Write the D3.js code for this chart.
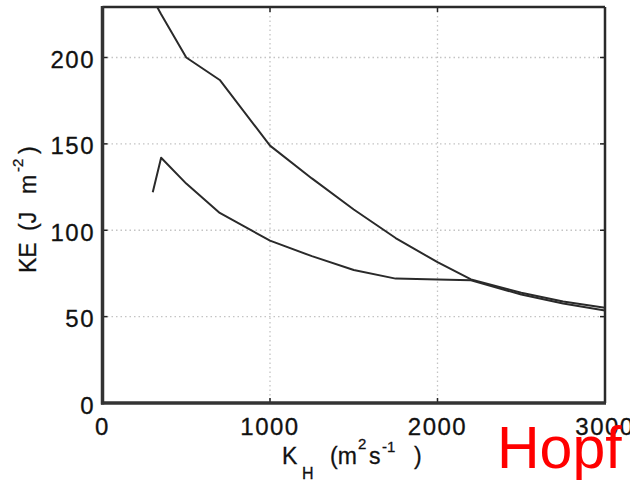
<!DOCTYPE html>
<html>
<head>
<meta charset="utf-8">
<script src="https://cdn.jsdelivr.net/npm/d3@7"></script>
<style>
  body { margin: 0; background: #fff; }
  svg { display: block; font-family: "Liberation Sans", Arial, sans-serif; }
</style>
</head>
<body>
<svg width="630" height="481"></svg>
<script>
// K_H values (m^2 s^-1) and the two KE curves (J m^-2)
var kh = [300, 350, 500, 700, 1000, 1250, 1500, 1750, 2000, 2200, 2500, 2750, 3000];
var keUpper = [234, 225, 200, 187, 149, 130, 112, 95.5, 81.5, 71.5, 63.8, 58.8, 55.2];
var keLower = [122, 142, 127, 110, 94, 85, 77, 72, 71.5, 71, 62.8, 57.6, 53.6];

var xTicks = [0, 1000, 2000, 3000];
var yTicks = [0, 50, 100, 150, 200];

var svg = d3.select("svg");

var xScale = d3.scaleLinear()
    .domain([0, 3000])
    .range([102.5, 605]);

var yScale = d3.scaleLinear()
    .domain([0, 200])
    .range([403, 57.5]);

var pLeft = xScale(0), pRight = xScale(3000);
var pBottom = yScale(0), pTop = 7;

// grid (dotted)
var grid = svg.append("g");
grid.selectAll("line.gx")
    .data(xTicks.filter(function(d){ return d > 0 && d < 3000; }))
    .enter().append("line")
    .attr("x1", function(d){ return xScale(d); })
    .attr("x2", function(d){ return xScale(d); })
    .attr("y1", pTop).attr("y2", pBottom)
    .attr("stroke", "#c4c4c4").attr("stroke-width", 1.3)
    .attr("stroke-dasharray", "1.5,3");
grid.selectAll("line.gy")
    .data(yTicks.filter(function(d){ return d > 0; }))
    .enter().append("line")
    .attr("y1", function(d){ return yScale(d); })
    .attr("y2", function(d){ return yScale(d); })
    .attr("x1", pLeft).attr("x2", pRight)
    .attr("stroke", "#c4c4c4").attr("stroke-width", 1.3)
    .attr("stroke-dasharray", "1.5,3");

// clip
svg.append("clipPath").attr("id", "plotClip")
    .append("rect")
    .attr("x", pLeft).attr("y", pTop)
    .attr("width", pRight - pLeft).attr("height", pBottom - pTop);

var line = d3.line()
    .x(function(d){ return xScale(d[0]); })
    .y(function(d){ return yScale(d[1]); });

var curves = svg.append("g").attr("clip-path", "url(#plotClip)");
[keUpper, keLower].forEach(function(series) {
    curves.append("path")
        .attr("d", line(kh.map(function(k, i){ return [k, series[i]]; })))
        .attr("fill", "none")
        .attr("stroke", "#2a2a2a")
        .attr("stroke-width", 2)
        .attr("stroke-linejoin", "round");
});

// ticks (inward, all four sides)
var tk = svg.append("g").attr("stroke", "#222").attr("stroke-width", 1.5);
xTicks.forEach(function(d) {
    tk.append("line").attr("x1", xScale(d)).attr("x2", xScale(d)).attr("y1", pBottom).attr("y2", pBottom - 5);
    tk.append("line").attr("x1", xScale(d)).attr("x2", xScale(d)).attr("y1", pTop).attr("y2", pTop + 5);
});
yTicks.forEach(function(d) {
    tk.append("line").attr("y1", yScale(d)).attr("y2", yScale(d)).attr("x1", pLeft).attr("x2", pLeft + 5);
    tk.append("line").attr("y1", yScale(d)).attr("y2", yScale(d)).attr("x1", pRight).attr("x2", pRight - 5);
});

// frame
svg.append("line").attr("x1", pLeft).attr("x2", pRight).attr("y1", pTop).attr("y2", pTop)
    .attr("stroke", "#2a2a2a").attr("stroke-width", 2.5);
svg.append("line").attr("x1", pRight).attr("x2", pRight).attr("y1", pTop).attr("y2", pBottom)
    .attr("stroke", "#2a2a2a").attr("stroke-width", 2.5);
svg.append("line").attr("x1", pLeft).attr("x2", pLeft).attr("y1", pTop - 1).attr("y2", pBottom + 1.5)
    .attr("stroke", "#333").attr("stroke-width", 3.5);
svg.append("line").attr("x1", pLeft - 1.5).attr("x2", pRight + 1).attr("y1", pBottom).attr("y2", pBottom)
    .attr("stroke", "#333").attr("stroke-width", 3.5);

// tick labels
svg.selectAll("text.yt").data(yTicks).enter().append("text")
    .attr("x", 95)
    .attr("y", function(d){ return yScale(d) + 10.5; })
    .attr("text-anchor", "end")
    .attr("font-size", 24)
    .attr("letter-spacing", 1.5)
    .attr("fill", "#111").attr("stroke", "#111").attr("stroke-width", 0.3)
    .text(function(d){ return d; });

svg.selectAll("text.xt").data(xTicks).enter().append("text")
    .attr("x", function(d){ return xScale(d); })
    .attr("y", 435)
    .attr("text-anchor", "middle")
    .attr("font-size", 24)
    .attr("letter-spacing", 1.5)
    .attr("fill", "#111").attr("stroke", "#111").attr("stroke-width", 0.3)
    .text(function(d){ return d; });

// x axis label: K_H (m^2 s^-1)
var xl = svg.append("g").attr("fill", "#111").attr("stroke", "#111").attr("stroke-width", 0.3);
xl.append("text").attr("x", 282).attr("y", 464).attr("font-size", 23).text("K");
xl.append("text").attr("x", 302).attr("y", 479).attr("font-size", 16).text("H");
xl.append("text").attr("x", 330).attr("y", 464).attr("font-size", 23).text("(m");
xl.append("text").attr("x", 358).attr("y", 449).attr("font-size", 15).text("2");
xl.append("text").attr("x", 369).attr("y", 464).attr("font-size", 23).text("s");
xl.append("text").attr("x", 382).attr("y", 452).attr("font-size", 15).text("-1");
xl.append("text").attr("x", 414).attr("y", 464).attr("font-size", 23).text(")");

// y axis label: KE (J m^-2)
var yl = svg.append("g").attr("transform", "translate(36,272) rotate(-90)")
    .attr("fill", "#111").attr("stroke", "#111").attr("stroke-width", 0.3);
yl.append("text").attr("x", -1).attr("y", 0).attr("font-size", 23).text("KE");
yl.append("text").attr("x", 41).attr("y", 0).attr("font-size", 23).text("(J");
yl.append("text").attr("x", 78).attr("y", 0).attr("font-size", 23).text("m");
yl.append("text").attr("x", 100).attr("y", -13).attr("font-size", 15).text("-2");
yl.append("text").attr("x", 118).attr("y", 0).attr("font-size", 23).text(")");

// red annotation
svg.append("text")
    .attr("x", 497)
    .attr("y", 468)
    .attr("font-size", 59)
    .attr("fill", "#ff0000")
    .text("Hopf");
</script>
</body>
</html>
